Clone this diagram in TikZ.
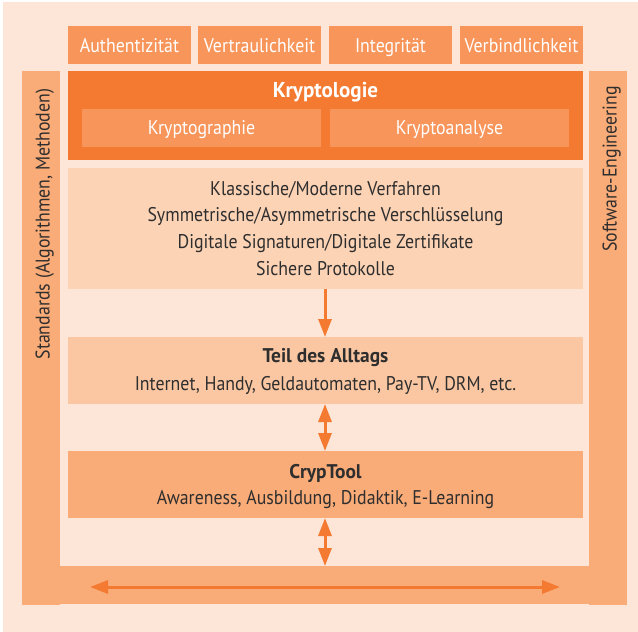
\documentclass[tikz,border=0pt]{standalone}
\usepackage{fontspec}
\setmainfont{PT Sans}[FakeStretch=0.9, BoldFeatures={FakeStretch=0.98}]
\usetikzlibrary{arrows.meta}
\definecolor{bgc}{HTML}{FDE6D8}
\definecolor{darkor}{HTML}{F37A30}
\definecolor{midor}{HTML}{F7955A}
\definecolor{barc}{HTML}{F9AB78}
\definecolor{boxa}{HTML}{FDD3B5}
\definecolor{boxb}{HTML}{FBC7A2}
\definecolor{txt}{HTML}{2E2E2E}
\newcommand{\fsz}{\fontsize{19.8}{22}\selectfont}
\tikzset{
  rbox/.style={anchor=north west, inner sep=0pt, outer sep=0pt, draw=none},
  toplabel/.style={rbox, fill=midor, minimum width=123pt, minimum height=38pt, text=white, font=\fsz, text height=15.4pt, text depth=0pt},
  subbox/.style={rbox, fill=midor, minimum width=239pt, minimum height=38pt, text=white, font=\fsz, text height=13.4pt, text depth=0pt},
  bar/.style={rbox, fill=barc},
  txtnode/.style={inner sep=0pt, anchor=base, text=txt, font=\fsz},
  flow/.style={draw=darkor, line width=3pt, -{Triangle[width=13pt,length=18pt]}},
  dflow/.style={draw=darkor, line width=3pt, {Triangle[width=13pt,length=18pt]}-{Triangle[width=13pt,length=18pt]}},
}
\begin{document}
\begin{tikzpicture}[x=1pt,y=-1pt]
\useasboundingbox (0,0) rectangle (638,632);
\fill[bgc] (3,2) rectangle (638,632);
% bars (U shape)
\node[bar, minimum width=38pt, minimum height=534pt] (lbar) at (22,71) {};
\node[bar, minimum width=38pt, minimum height=534pt] (rbar) at (589,71) {};
\node[bar, minimum width=529pt, minimum height=38pt] (bbar) at (60,566) {};
\node[txtnode, rotate=90] (standards) at (49.5,224) {Standards (Algorithmen, Methoden)};
\node[txtnode, rotate=90] (swe) at (616.5,169) {Software-Engineering};
% top labels
\node[toplabel] (auth) at (68,26) {Authentizität};
\node[toplabel] (vert) at (198,26) {Vertraulichkeit};
\node[toplabel] (integ) at (329,26) {Integrität};
\node[toplabel] (verb) at (460,26) {Verbindlichkeit};
% Kryptologie
\node[rbox, fill=darkor, minimum width=515pt, minimum height=89pt] (krypt) at (68,71) {};
\node[txtnode, text=white, font=\fontsize{21.5}{24}\selectfont\bfseries] (kryptt) at (325.5,97) {Kryptologie};
\node[subbox] (kgraph) at (82,109) {Kryptographie};
\node[subbox] (kana) at (330,109) {Kryptoanalyse};
% box 1
\node[rbox, fill=boxa, minimum width=515pt, minimum height=121pt] (b1) at (68,168) {};
\node[txtnode] (l1) at (325.5,195) {Klassische/Moderne Verfahren};
\node[txtnode] (l2) at (325.5,221.7) {Symmetrische/Asymmetrische Verschlüsselung};
\node[txtnode] (l3) at (325.5,248.4) {Digitale Signaturen/Digitale Zertifikate};
\node[txtnode] (l4) at (325.5,275) {Sichere Protokolle};
% box 2
\node[rbox, fill=boxb, minimum width=515pt, minimum height=67pt] (b2) at (68,337) {};
\node[txtnode, font=\fsz\bfseries] (b2h) at (325.5,362.7) {Teil des Alltags};
\node[txtnode] (b2t) at (325.5,390) {Internet, Handy, Geldautomaten, Pay-TV, DRM, etc.};
% box 3
\node[rbox, fill=barc, minimum width=515pt, minimum height=67pt] (b3) at (68,451) {};
\node[txtnode, font=\fsz\bfseries] (b3h) at (325.5,478.3) {CrypTool};
\node[txtnode] (b3t) at (325.5,504.3) {Awareness, Ausbildung, Didaktik, E-Learning};
% arrows
\draw[flow] (b1.south -| 325,0) -- (b2.north -| 325,0);
\draw[dflow] (b2.south -| 325,0) -- (b3.north -| 325,0);
\draw[dflow] (b3.south -| 325,0) -- (bbar.north -| 325,0);
\coordinate (hl) at (90,587);
\coordinate (hr) at (560,587);
\draw[dflow] (hl) -- (hr);
\end{tikzpicture}
\end{document}
